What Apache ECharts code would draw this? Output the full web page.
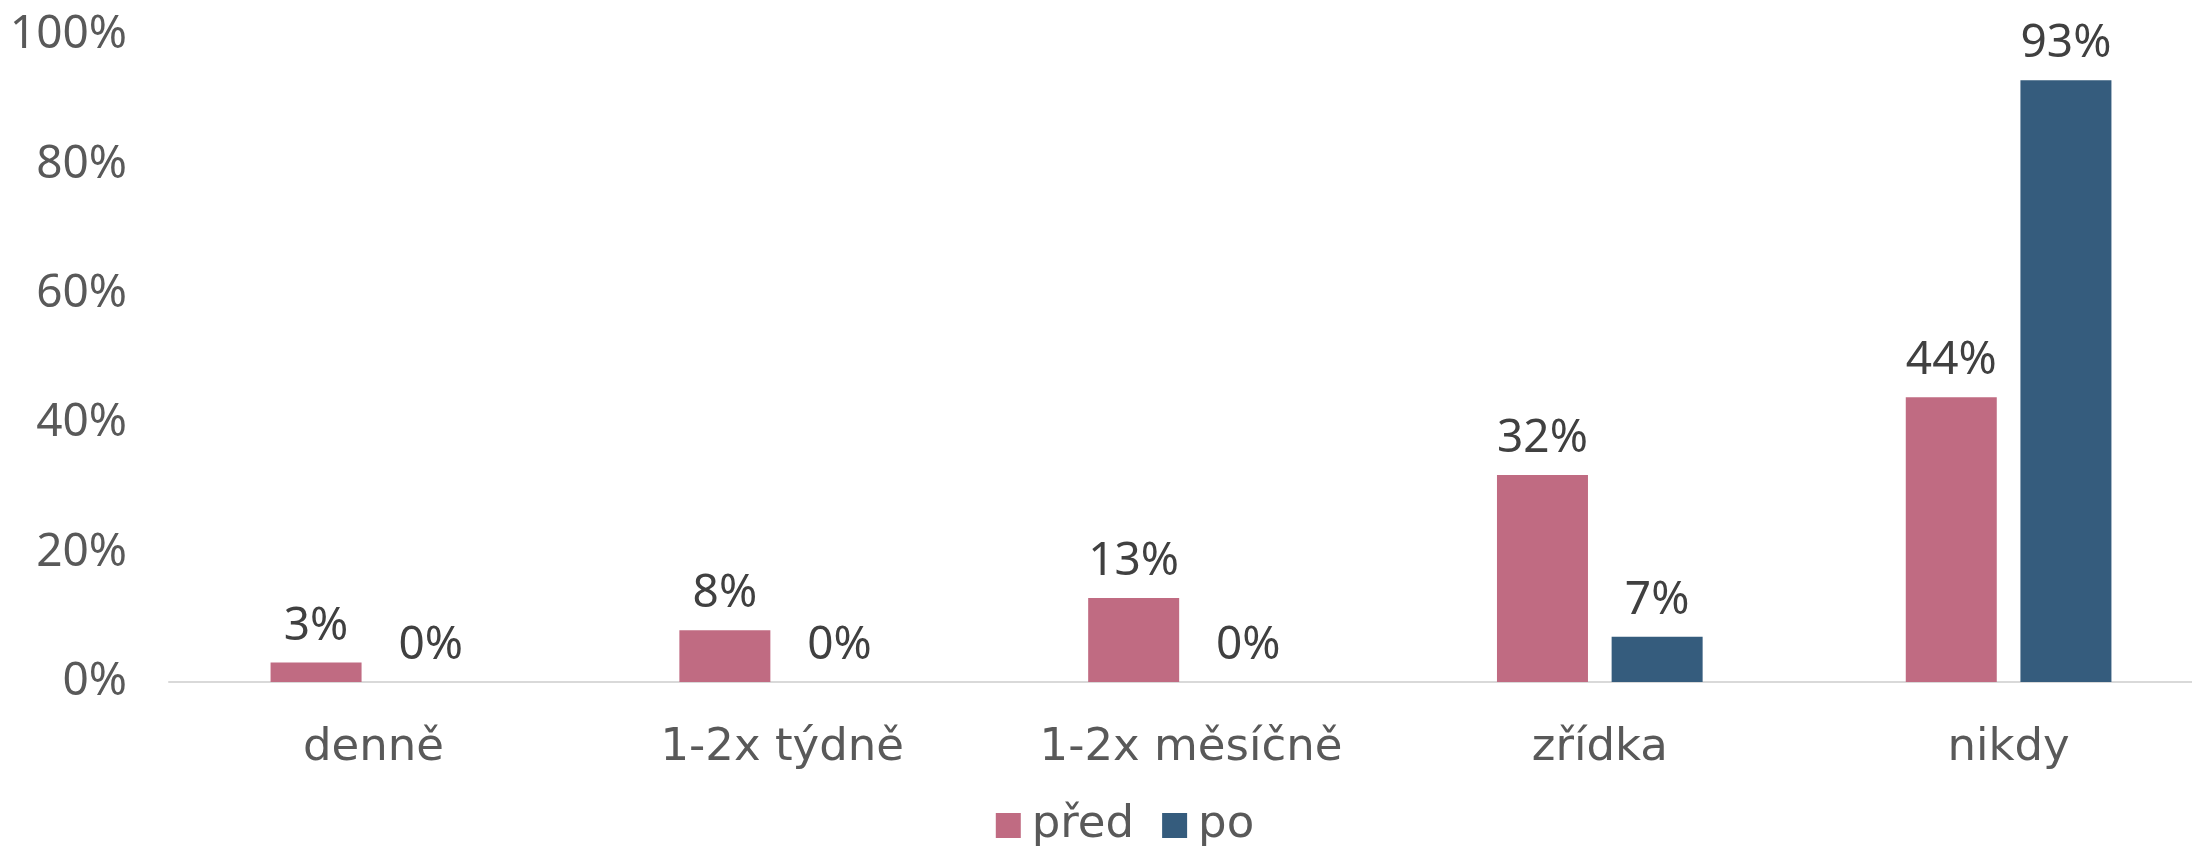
<!DOCTYPE html>
<html><head><meta charset="utf-8">
<script src="https://cdn.jsdelivr.net/npm/echarts@6/dist/echarts.min.js"></script>
<style>html,body{margin:0;padding:0;background:#fff;overflow:hidden}#c{width:2250px;height:850px}</style>
</head><body><div id="c"></div>
<script>
const categories = ['denně', '1-2x týdně', '1-2x měsíčně', 'zřídka', 'nikdy'];
const seriesNames = ['před', 'po'];
const predValues = [3, 8, 13, 32, 44];
const poValues = [0, 0, 0, 7, 93];
const yTicks = [0, 20, 40, 60, 80, 100];

const NUMFONT = '"Noto Sans", sans-serif';
const TXTFONT = '"DejaVu Sans", sans-serif';
const chart = echarts.init(document.getElementById('c'));
const labelCfg = {
  show: true, position: 'top', distance: 13,
  formatter: p => p.value + '%',
  fontFamily: NUMFONT, fontSize: 46, color: '#404040'
};
chart.setOption({
  animation: false,
  grid: { left: 169, right: 37, top: 35, bottom: 168, containLabel: false },
  legend: {
    data: seriesNames, bottom: -3, left: 'center',
    itemWidth: 25, itemHeight: 25, itemGap: 28,
    icon: 'rect',
    textStyle: { fontFamily: TXTFONT, fontSize: 45, color: '#595959', padding: [0, 0, 0, 6] }
  },
  xAxis: {
    type: 'category', data: categories,
    axisLine: { lineStyle: { color: '#d9d9d9', width: 2 } },
    axisTick: { show: false },
    axisLabel: { fontFamily: TXTFONT, fontSize: 45, color: '#595959', margin: 44 }
  },
  yAxis: {
    type: 'value', min: yTicks[0], max: yTicks[yTicks.length - 1], interval: 20,
    splitLine: { show: false },
    axisLine: { show: false }, axisTick: { show: false },
    axisLabel: { formatter: v => v + '%', fontFamily: NUMFONT, fontSize: 46, color: '#595959', margin: 42 }
  },
  series: [
    { name: seriesNames[0], type: 'bar', data: predValues, barWidth: 91, barGap: '26%',
      itemStyle: { color: '#C06B82' }, label: labelCfg },
    { name: seriesNames[1], type: 'bar', data: poValues, barWidth: 91,
      itemStyle: { color: '#355C7D' }, label: labelCfg }
  ]
});
</script></body></html>
